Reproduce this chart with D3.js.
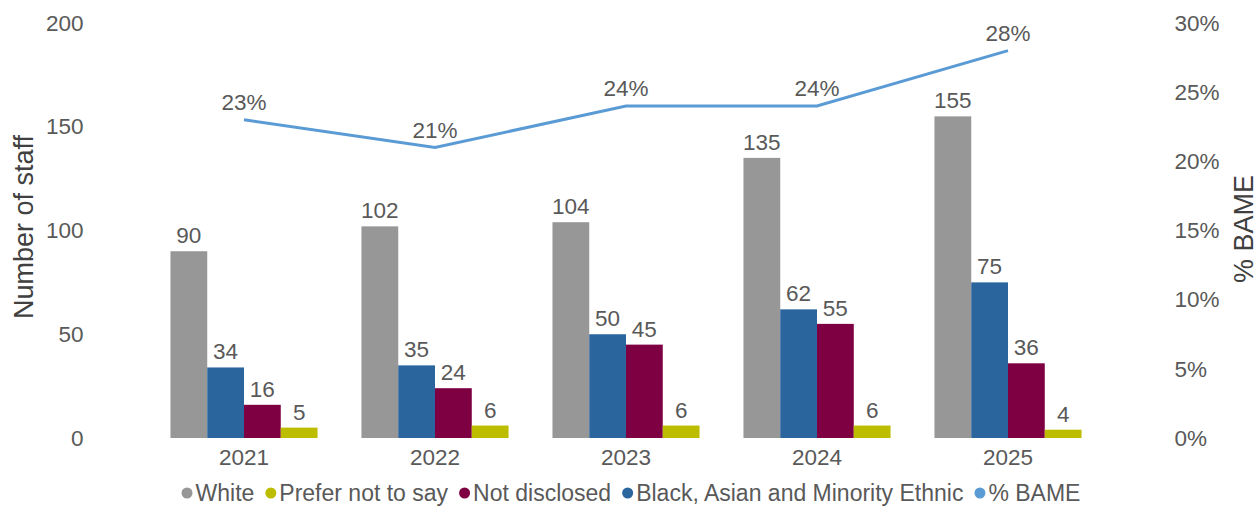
<!DOCTYPE html>
<html>
<head>
<meta charset="utf-8">
<script src="https://cdn.jsdelivr.net/npm/d3@7/dist/d3.min.js"></script>
<style>
  html, body { margin: 0; padding: 0; background: #fff; }
  svg text { font-family: "Liberation Sans", Arial, sans-serif; fill: #595959; }
</style>
</head>
<body>
<svg id="chart" width="1260" height="509"></svg>
<script>
// Staff numbers by ethnicity, per year
const years = ["2021", "2022", "2023", "2024", "2025"];
const white = [90, 102, 104, 135, 155];
const bame = [34, 35, 50, 62, 75];
const notDisclosed = [16, 24, 45, 55, 36];
const preferNot = [5, 6, 6, 6, 4];
const pctBame = [23, 21, 24, 24, 28];

const leftTicks = [0, 50, 100, 150, 200];
const rightTicks = [0, 5, 10, 15, 20, 25, 30];

// Bar series in drawing order within each year group
const barSeries = [
  { key: "White", values: white, color: "#979797" },
  { key: "Black, Asian and Minority Ethnic", values: bame, color: "#2A659E" },
  { key: "Not disclosed", values: notDisclosed, color: "#7E0042" },
  { key: "Prefer not to say", values: preferNot, color: "#BDBD00" }
];
const lineColor = "#5B9BD5";

// Legend order
const legendItems = [
  { label: "White", color: "#979797" },
  { label: "Prefer not to say", color: "#BDBD00" },
  { label: "Not disclosed", color: "#7E0042" },
  { label: "Black, Asian and Minority Ethnic", color: "#2A659E" },
  { label: "% BAME", color: lineColor }
];

const svg = d3.select("#chart");
const plot = { left: 148.5, right: 1103.5, top: 23, bottom: 438 };

const x = d3.scaleBand().domain(years).range([plot.left, plot.right]).paddingInner(0.23).paddingOuter(0.115);
const xInner = d3.scaleBand().domain(barSeries.map(s => s.key)).range([0, x.bandwidth()]);
const yLeft = d3.scaleLinear().domain([0, 200]).range([plot.bottom, plot.top]);
const yRight = d3.scaleLinear().domain([0, 30]).range([plot.bottom, plot.top]);

const fontSize = 22.5;
const legendSize = 23;
const titleSize = 27;

// Left axis
const leftAxis = svg.append("g")
  .attr("transform", `translate(${plot.left - 65},0)`)
  .call(d3.axisLeft(yLeft).tickValues(leftTicks).tickSize(0).tickPadding(0));
leftAxis.select(".domain").remove();
leftAxis.selectAll("text").style("font-size", fontSize + "px").attr("fill", "#595959");

// Right axis
const rightAxis = svg.append("g")
  .attr("transform", `translate(${plot.right + 71},0)`)
  .call(d3.axisRight(yRight).tickValues(rightTicks).tickFormat(d => d + "%").tickSize(0).tickPadding(0));
rightAxis.select(".domain").remove();
rightAxis.selectAll("text").style("font-size", fontSize + "px").attr("fill", "#595959");

// Category axis
const bottomAxis = svg.append("g")
  .attr("transform", `translate(0,${plot.bottom})`)
  .call(d3.axisBottom(x).tickSize(0).tickPadding(11));
bottomAxis.select(".domain").remove();
bottomAxis.selectAll("text").style("font-size", fontSize + "px").attr("fill", "#595959");

// Axis titles
svg.append("text")
  .attr("transform", `translate(33,227) rotate(-90)`)
  .attr("text-anchor", "middle")
  .style("font-size", titleSize + "px")
  .style("fill", "#404040")
  .text("Number of staff");

svg.append("text")
  .attr("transform", `translate(1253,229) rotate(-90)`)
  .attr("text-anchor", "middle")
  .style("font-size", titleSize + "px")
  .style("fill", "#404040")
  .text("% BAME");

// Grouped bars
const groups = svg.append("g").selectAll("g")
  .data(years)
  .join("g")
  .attr("transform", d => `translate(${x(d)},0)`);

barSeries.forEach(s => {
  groups.append("rect")
    .attr("x", xInner(s.key))
    .attr("width", xInner.bandwidth())
    .attr("y", (d, i) => yLeft(s.values[i]))
    .attr("height", (d, i) => yLeft(0) - yLeft(s.values[i]))
    .attr("fill", s.color);
  groups.append("text")
    .attr("x", xInner(s.key) + xInner.bandwidth() / 2)
    .attr("y", (d, i) => yLeft(s.values[i]) - 8)
    .attr("text-anchor", "middle")
    .style("font-size", fontSize + "px")
    .text((d, i) => s.values[i]);
});

// % BAME line
const linePts = years.map((yr, i) => [x(yr) + x.bandwidth() / 2, yRight(pctBame[i])]);
svg.append("path")
  .attr("d", d3.line()(linePts))
  .attr("fill", "none")
  .attr("stroke", lineColor)
  .attr("stroke-width", 3);

svg.append("g").selectAll("text")
  .data(years)
  .join("text")
  .attr("x", (d) => x(d) + x.bandwidth() / 2)
  .attr("y", (d, i) => yRight(pctBame[i]) - 10)
  .attr("text-anchor", "middle")
  .style("font-size", fontSize + "px")
  .text((d, i) => pctBame[i] + "%");

// Legend
const legend = svg.append("g");
let cursor = 0;
const legendY = 493;
const gap = 11;
legendItems.forEach((item) => {
  const g = legend.append("g");
  g.append("circle").attr("cx", cursor + 5.5).attr("cy", legendY).attr("r", 5.5).attr("fill", item.color);
  const t = g.append("text")
    .attr("x", cursor + 14)
    .attr("y", legendY)
    .attr("dy", "0.35em")
    .style("font-size", legendSize + "px")
    .text(item.label);
  cursor += 14 + t.node().getComputedTextLength() + gap;
});
const legendWidth = cursor - gap;
legend.attr("transform", `translate(${631 - legendWidth / 2},0)`);
</script>
</body>
</html>
